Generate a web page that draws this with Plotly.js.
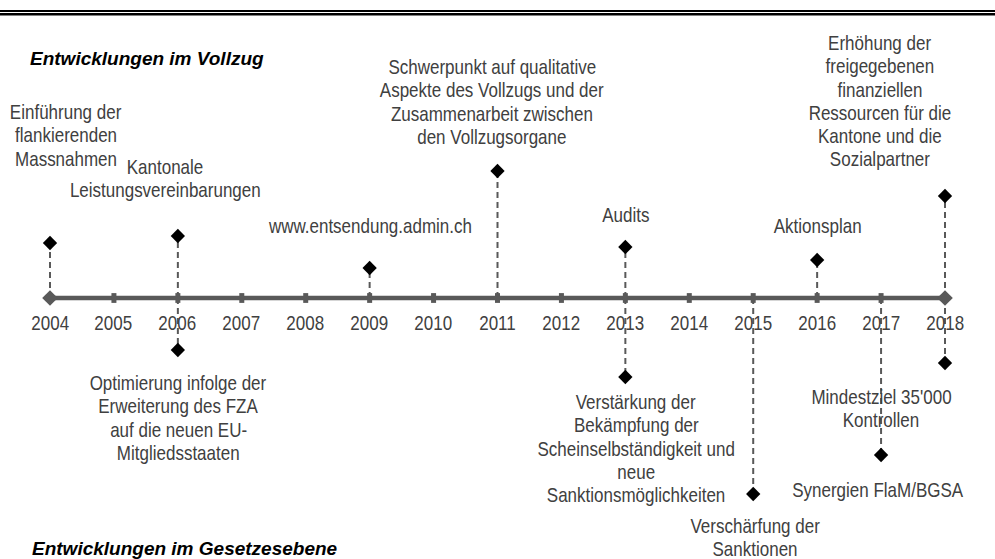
<!DOCTYPE html>
<html>
<head>
<meta charset="utf-8">
<script src="https://cdn.plot.ly/plotly-3.0.1.min.js"></script>
<style>
html,body{margin:0;padding:0;background:#fff;}
#chart{width:995px;height:559px;}
#chart g.annotation text.annotation-text[style*="font-size: 20px"]{
  transform-box: fill-box; transform-origin: 50% 50%; transform: scaleX(0.85);
}
</style>
</head>
<body>
<div id="chart"></div>
<script>
// ---- data ----
const years = [2004, 2005, 2006, 2007, 2008, 2009, 2010, 2011, 2012, 2013, 2014, 2015, 2016, 2017, 2018];
const yearLabels = ["2004","2005","2006","2007","2008","2009","2010","2011","2012","2013","2014","2015","2016","2017","2018"];
const aboveYears = [2004, 2006, 2009, 2011, 2013, 2016, 2018];
const aboveLevels = [55, 62, 30, 127, 51, 38, 102];
const aboveLabels = [
  ["Einführung der", "flankierenden", "Massnahmen"],
  ["Kantonale", "Leistungsvereinbarungen"],
  ["www.entsendung.admin.ch"],
  ["Schwerpunkt auf qualitative", "Aspekte des Vollzugs und der", "Zusammenarbeit zwischen", "den Vollzugsorgane"],
  ["Audits"],
  ["Aktionsplan"],
  ["Erhöhung der", "freigegebenen", "finanziellen", "Ressourcen für die", "Kantone und die", "Sozialpartner"]
];
const belowYears = [2006, 2013, 2015, 2017, 2018];
const belowLevels = [-52, -79, -196, -157, -65];
const belowLabels = [
  ["Optimierung infolge der", "Erweiterung des FZA", "auf die neuen EU-", "Mitgliedsstaaten"],
  ["Verstärkung der", "Bekämpfung der", "Scheinselbständigkeit und", "neue", "Sanktionsmöglichkeiten"],
  ["Verschärfung der", "Sanktionen"],
  ["Synergien FlaM/BGSA"],
  ["Mindestziel 35'000", "Kontrollen"]
];
const sectionTitles = ["Entwicklungen im Vollzug", "Entwicklungen im Gesetzesebene"];

// ---- layout helpers (positions in figure pixels) ----
const W = 995, H = 559;
const abovePos = [[66, 112], [165, 167], [370, 226], [492, 67], [626, 215], [817, 226], [880, 43]];
const belowPos = [[178, 383], [636, 402], [755, 526], [878, 490], [881, 397]];
const LINE = 23.3;
const labelFont = {family: "'Liberation Sans', Arial, sans-serif", size: 20, color: '#404040'};
const titleFont = {family: "'Liberation Sans', Arial, sans-serif", size: 19, color: '#000000'};
const grey = '#595959';

const allYears = aboveYears.concat(belowYears);
const allLevels = aboveLevels.concat(belowLevels);

// dashed connectors
const dx = [], dy = [];
allYears.forEach((yr, i) => { dx.push(yr, yr, null); dy.push(0, allLevels[i], null); });

const traces = [
  {x: dx, y: dy, mode: 'lines', line: {color: grey, width: 2, dash: '6px,4px'}, hoverinfo: 'skip'},
  {x: [years[0], years[years.length - 1]], y: [0, 0], mode: 'lines', line: {color: grey, width: 4.5}, hoverinfo: 'skip'},
  {x: years.slice(1, -1), y: years.slice(1, -1).map(() => 0), mode: 'markers',
   marker: {symbol: 'line-ns', size: 7, color: grey, line: {color: grey, width: 5}}, hoverinfo: 'skip'},
  {x: [years[0], years[years.length - 1]], y: [0, 0], mode: 'markers',
   marker: {symbol: 'diamond', size: 12, color: grey, line: {width: 0}}, hoverinfo: 'skip'},
  {x: allYears, y: allLevels, mode: 'markers',
   marker: {symbol: 'diamond', size: 11, color: '#000000', line: {width: 0}}, hoverinfo: 'skip'}
];

const annotations = [];
years.forEach((yr, i) => annotations.push({
  x: yr, y: 0, xref: 'x', yref: 'y', yshift: -25, text: yearLabels[i], showarrow: false,
  font: labelFont, xanchor: 'center', yanchor: 'middle'
}));
function addLines(lines, pos) {
  lines.forEach((t, j) => annotations.push({
    x: pos[0] / W, y: 1 - (pos[1] + j * LINE) / H, xref: 'paper', yref: 'paper',
    text: t, showarrow: false, font: labelFont, xanchor: 'center', yanchor: 'middle'
  }));
}
aboveLabels.forEach((l, i) => addLines(l, abovePos[i]));
belowLabels.forEach((l, i) => addLines(l, belowPos[i]));
annotations.push({x: 28 / W, y: 1 - 58 / H, xref: 'paper', yref: 'paper', xanchor: 'left', yanchor: 'middle',
  text: '<b><i>' + sectionTitles[0] + '</i></b>', showarrow: false, font: titleFont});
annotations.push({x: 30 / W, y: 1 - 548 / H, xref: 'paper', yref: 'paper', xanchor: 'left', yanchor: 'middle',
  text: '<b><i>' + sectionTitles[1] + '</i></b>', showarrow: false, font: titleFont});

// axis mapping: 2004 -> 50px, 2018 -> 945px ; level 0 -> 298px, 1 unit = 1px
const pxPerYear = (945 - 50) / 14;
const layout = {
  width: W, height: H, margin: {l: 0, r: 0, t: 0, b: 0},
  paper_bgcolor: '#ffffff', plot_bgcolor: '#ffffff', showlegend: false,
  xaxis: {range: [2004 - 50 / pxPerYear, 2018 + (W - 945) / pxPerYear], visible: false, fixedrange: true},
  yaxis: {range: [-(H - 298), 298], visible: false, fixedrange: true},
  shapes: [
    {type: 'line', xref: 'paper', yref: 'paper', x0: 0, x1: 1, y0: 1 - 11 / H, y1: 1 - 11 / H, line: {color: '#000', width: 2}},
    {type: 'line', xref: 'paper', yref: 'paper', x0: 0, x1: 1, y0: 1 - 14.3 / H, y1: 1 - 14.3 / H, line: {color: '#000', width: 2.5}}
  ],
  annotations: annotations
};
Plotly.newPlot('chart', traces, layout, {displayModeBar: false, staticPlot: true});
</script>
</body>
</html>
